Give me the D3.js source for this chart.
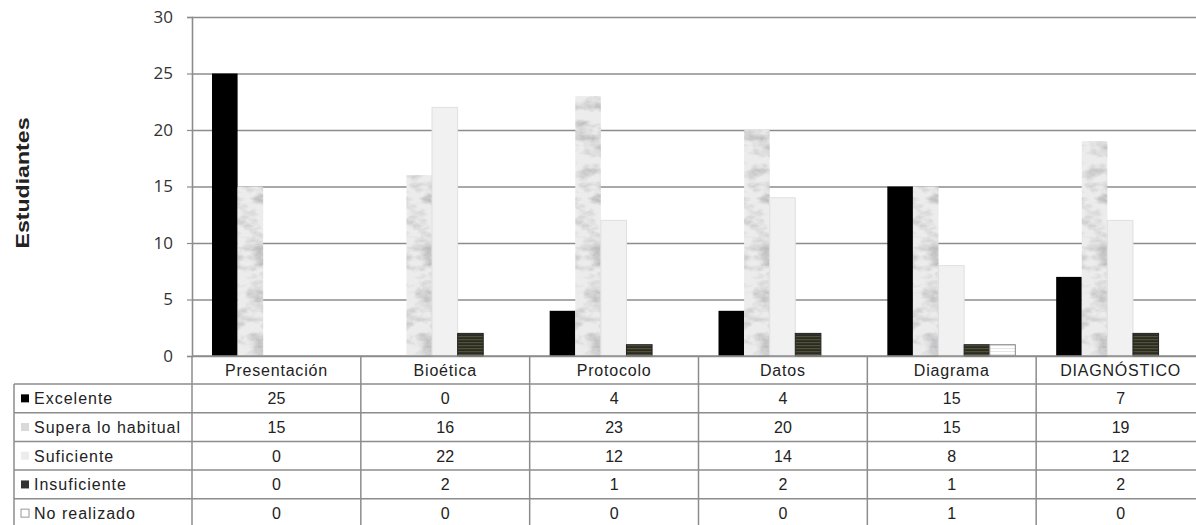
<!DOCTYPE html>
<html>
<head>
<meta charset="utf-8">
<script src="https://cdn.jsdelivr.net/npm/d3@7"></script>
<style>
  html, body { margin: 0; padding: 0; background: #fff; }
  svg { display: block; }
</style>
</head>
<body>
<svg id="chart" width="1196" height="525"></svg>
<script>
// Evaluation results per section, by rating
const categories = ["Presentación", "Bioética", "Protocolo", "Datos", "Diagrama", "DIAGNÓSTICO"];
const seriesNames = ["Excelente", "Supera lo habitual", "Suficiente", "Insuficiente", "No realizado"];
const excelente    = [25, 0, 4, 4, 15, 7];
const supera       = [15, 16, 23, 20, 15, 19];
const suficiente   = [0, 22, 12, 14, 8, 12];
const insuficiente = [0, 2, 1, 2, 1, 2];
const noRealizado  = [0, 0, 0, 0, 1, 0];
const yTicks = [0, 5, 10, 15, 20, 25, 30];
const yTitle = "Estudiantes";

const seriesValues = [excelente, supera, suficiente, insuficiente, noRealizado];

const svg = d3.select("#chart");
const W = 1196, H = 525;
const plot = { left: 192, right: 1205, top: 17, bottom: 356 };
const table = { left: 14, headerH: 28, rowH: 28.7 };

// ---------- fills ----------
const defs = svg.append("defs");

// marble-like texture for "Supera lo habitual"
const marble = defs.append("filter").attr("id", "marble")
  .attr("x", 0).attr("y", 0).attr("width", 1).attr("height", 1)
  .attr("filterUnits", "objectBoundingBox");
marble.append("feTurbulence").attr("type", "fractalNoise")
  .attr("baseFrequency", "0.05 0.09").attr("numOctaves", 4).attr("seed", 3).attr("result", "noise");
marble.append("feColorMatrix").attr("in", "noise").attr("type", "matrix")
  .attr("values", "0 0 0 0 0  0 0 0 0 0  0 0 0 0 0  2.4 0 0 0 -0.95")
  .attr("result", "veins");
marble.append("feFlood").attr("flood-color", "#ececec").attr("result", "base");
marble.append("feFlood").attr("flood-color", "#a4a4a8").attr("flood-opacity", 0.7).attr("result", "dark");
marble.append("feComposite").attr("in", "dark").attr("in2", "veins").attr("operator", "in").attr("result", "darkVeins");
marble.append("feComposite").attr("in", "darkVeins").attr("in2", "base").attr("operator", "over").attr("result", "stone");
marble.append("feComposite").attr("in", "stone").attr("in2", "SourceGraphic").attr("operator", "in");

// horizontal stripes for "Insuficiente"
const stripes = defs.append("pattern").attr("id", "stripes")
  .attr("patternUnits", "userSpaceOnUse").attr("width", 6).attr("height", 3);
stripes.append("rect").attr("width", 6).attr("height", 3).attr("fill", "#2b2b22");
stripes.append("rect").attr("width", 6).attr("height", 1.2).attr("fill", "#50533a");

// faint lines for "No realizado"
const lines = defs.append("pattern").attr("id", "faint")
  .attr("patternUnits", "userSpaceOnUse").attr("width", 6).attr("height", 3);
lines.append("rect").attr("width", 6).attr("height", 3).attr("fill", "#ffffff");
lines.append("rect").attr("width", 6).attr("height", 1).attr("fill", "#e6e6e6");

const barFill = ["#000000", "#e6e6e6", "#f1f1f1", "url(#stripes)", "url(#faint)"];
const barStroke = ["none", "none", "#e0e0e0", "#222", "#888"];
const swatchFill = ["#000000", "#d9d9d9", "#ececec", "#333333", "#ffffff"];
const swatchStroke = ["none", "none", "none", "none", "#999"];

// ---------- scales ----------
const x0 = d3.scaleBand().domain(categories).range([plot.left, plot.right]).padding(0);
const x1 = d3.scaleBand().domain(seriesNames).range([20, 148]).padding(0);
const y = d3.scaleLinear().domain([0, 30]).range([plot.bottom, plot.top]);

// ---------- gridlines ----------
const grid = svg.append("g").attr("transform", `translate(${plot.left},0)`)
  .call(d3.axisLeft(y).tickValues(yTicks).tickSize(-(plot.right - plot.left)).tickFormat(""));
grid.select(".domain").remove();
grid.selectAll("line").attr("stroke", "#8c8c8c").attr("stroke-width", 1.6);

// left axis line + tick labels
const yAxis = svg.append("g").attr("transform", `translate(${plot.left},0)`)
  .call(d3.axisLeft(y).tickValues(yTicks).tickSize(5).tickPadding(14));
yAxis.select(".domain").attr("stroke", "#8c8c8c").attr("stroke-width", 1.6);
yAxis.selectAll("line").attr("stroke", "#8c8c8c").attr("stroke-width", 1.2);
yAxis.selectAll("text")
  .attr("font-family", "'Open Sans', 'DejaVu Sans', sans-serif")
  .attr("font-size", 17).attr("fill", "#333");

// y title
svg.append("text")
  .attr("transform", `translate(29,183) rotate(-90)`)
  .attr("text-anchor", "middle")
  .attr("font-family", "'Liberation Sans', Arial, sans-serif")
  .attr("font-weight", "bold").attr("font-size", 19).attr("fill", "#222")
  .attr("textLength", 131).attr("lengthAdjust", "spacingAndGlyphs")
  .text(yTitle);

// ---------- bars ----------
const groups = svg.append("g").selectAll("g")
  .data(categories).join("g")
  .attr("transform", d => `translate(${x0(d)},0)`);

groups.selectAll("rect")
  .data((c, ci) => seriesNames.map((s, si) => ({ s, si, v: seriesValues[si][ci] })))
  .join("rect")
  .filter(d => d.v > 0)
  .attr("x", d => x1(d.s))
  .attr("y", d => y(d.v))
  .attr("width", x1.bandwidth())
  .attr("height", d => y(0) - y(d.v))
  .attr("fill", d => d.si === 1 ? "#e6e6e6" : barFill[d.si])
  .attr("filter", d => d.si === 1 ? "url(#marble)" : null)
  .attr("stroke", d => barStroke[d.si])
  .attr("stroke-width", 1);

// ---------- data table ----------
const tbl = svg.append("g");
const font = "'Liberation Sans', Arial, sans-serif";
const fs = 16;
const rowTop = i => plot.bottom + table.headerH + i * table.rowH;
const tableBottom = rowTop(seriesNames.length);

// horizontal rules
tbl.append("line").attr("x1", plot.left).attr("x2", W)
  .attr("y1", plot.bottom).attr("y2", plot.bottom);
for (let i = 0; i <= seriesNames.length; i++) {
  tbl.append("line").attr("x1", table.left).attr("x2", W)
    .attr("y1", rowTop(i)).attr("y2", rowTop(i));
}
// vertical rules
tbl.append("line").attr("x1", table.left).attr("x2", table.left)
  .attr("y1", rowTop(0)).attr("y2", tableBottom);
categories.forEach(c => {
  tbl.append("line").attr("x1", x0(c)).attr("x2", x0(c))
    .attr("y1", plot.bottom).attr("y2", tableBottom);
});
tbl.selectAll("line").attr("stroke", "#8c8c8c").attr("stroke-width", 1.5);

// header labels
tbl.selectAll("text.cat").data(categories).join("text")
  .attr("class", "cat")
  .attr("x", d => x0(d) + x0.bandwidth() / 2)
  .attr("y", plot.bottom + table.headerH / 2 + 6)
  .attr("text-anchor", "middle")
  .attr("font-family", font).attr("font-size", fs).attr("fill", "#222")
  .attr("letter-spacing", 0.8)
  .text(d => d);

// row labels with swatches
seriesNames.forEach((s, si) => {
  const cy = rowTop(si) + table.rowH / 2;
  tbl.append("rect")
    .attr("x", 21).attr("y", cy - 4).attr("width", 8).attr("height", 8)
    .attr("fill", swatchFill[si]).attr("stroke", swatchStroke[si]).attr("stroke-width", 1);
  tbl.append("text")
    .attr("x", 34).attr("y", cy + 6)
    .attr("font-family", font).attr("font-size", fs).attr("fill", "#222")
    .attr("letter-spacing", 1.0)
    .text(s);
  categories.forEach((c, ci) => {
    tbl.append("text")
      .attr("x", x0(c) + x0.bandwidth() / 2)
      .attr("y", cy + 6)
      .attr("text-anchor", "middle")
      .attr("font-family", font).attr("font-size", fs).attr("fill", "#222")
      .text(seriesValues[si][ci]);
  });
});
</script>
</body>
</html>
